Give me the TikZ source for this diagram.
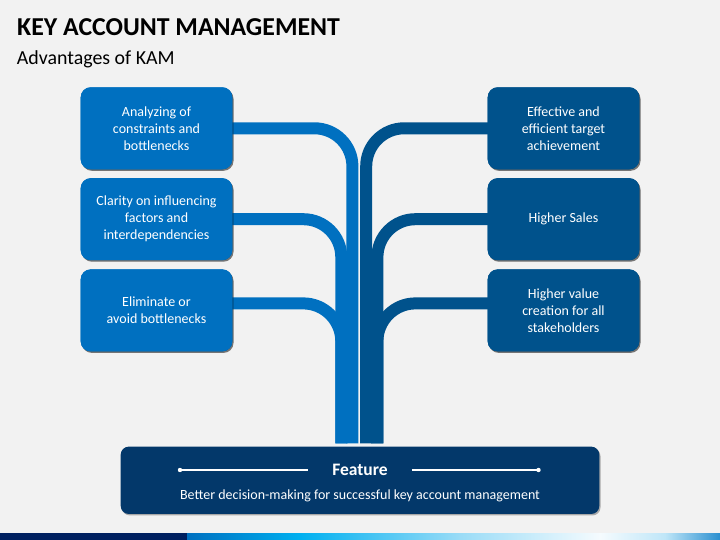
\documentclass[tikz,border=0pt]{standalone}
\usepackage{fontspec}
\setmainfont{Carlito}
\usetikzlibrary{shadows}
\definecolor{bg}{HTML}{F2F2F2}
\definecolor{lblue}{HTML}{0070C0}
\definecolor{rblue}{HTML}{00528C}
\definecolor{navy}{HTML}{03386A}
\definecolor{barnavy}{HTML}{002060}
\definecolor{cyanA}{HTML}{00B0F0}
\definecolor{cyanB}{HTML}{9ADCF7}
\definecolor{whiteA}{HTML}{F5FBFE}
\definecolor{cyanC}{HTML}{BFE6F8}
\definecolor{endblue}{HTML}{2A8FD0}
\tikzset{
  shadowed/.style={drop shadow={shadow xshift=1.2pt,shadow yshift=-1.5pt,opacity=0.3,fill=black}},
  boxbase/.style={shadowed,rounded corners=10pt,minimum width=151.6pt,minimum height=82pt,
    text=white,align=center,inner sep=2pt,font=\fontsize{14pt}{17pt}\selectfont},
  lbox/.style={boxbase,fill=lblue},
  rbox/.style={boxbase,fill=rblue},
  branch/.style={line width=12pt,rounded corners=38pt},
  lbranch/.style={branch,draw=lblue},
  rbranch/.style={branch,draw=rblue},
  featbox/.style={shadowed,fill=navy,rounded corners=8pt,minimum width=478.6pt,minimum height=67.3pt},
  featline/.style={draw=white,line width=1.3pt},
  dotmark/.style={fill=white},
}
\begin{document}
\begin{tikzpicture}[x=1pt,y=-1pt]
\fill[bg] (0,0) rectangle (720,540);
\useasboundingbox (0,0) rectangle (720,540);

% titles
\node[anchor=base west,inner sep=0,font=\fontsize{25.8pt}{30pt}\selectfont\bfseries] (title) at (17,36) {KEY ACCOUNT MANAGEMENT};
\node[anchor=base west,inner sep=0,font=\fontsize{19.9pt}{23pt}\selectfont] (subtitle) at (16.7,65) {Advantages of KAM};

% trunk end points
\coordinate (tL1) at (352.4,443.4);
\coordinate (tL2) at (341.3,443.4);
\coordinate (tR1) at (366.2,443.4);
\coordinate (tR2) at (377.4,443.4);

% boxes (positions)
\path
  node[lbox] (l1) at (156.5,128.3) {Analyzing of\\constraints and\\bottlenecks}
  node[lbox] (l2) at (156.5,219.2) {Clarity on influencing\\factors and\\interdependencies}
  node[lbox] (l3) at (156.5,310.4) {Eliminate or\\avoid bottlenecks}
  node[rbox] (r1) at (563.5,128.3) {Effective and\\efficient target\\achievement}
  node[rbox] (r2) at (563.5,219.2) {Higher Sales}
  node[rbox] (r3) at (563.5,310.4) {Higher value\\creation for all\\stakeholders};

% branches
\draw[lbranch] ([xshift=-2pt]l3.east) ++(0,-7) -| (tL2);
\draw[lbranch] ([xshift=-2pt]l2.east) -| (tL2);
\draw[lbranch] ([xshift=-2pt]l1.east) -| (tL1);
\draw[rbranch] ([xshift=2pt]r3.west) ++(0,-7) -| (tR2);
\draw[rbranch] ([xshift=2pt]r2.west) -| (tR2);
\draw[rbranch] ([xshift=2pt]r1.west) -| (tR1);

% redraw boxes on top
\path
  node[lbox] at (l1) {Analyzing of\\constraints and\\bottlenecks}
  node[lbox] at (l2) {Clarity on influencing\\factors and\\interdependencies}
  node[lbox] at (l3) {Eliminate or\\avoid bottlenecks}
  node[rbox] at (r1) {Effective and\\efficient target\\achievement}
  node[rbox] at (r2) {Higher Sales}
  node[rbox] at (r3) {Higher value\\creation for all\\stakeholders};

% feature box
\node[featbox] (feat) at (360,480.3) {};
\node[text=white,font=\fontsize{17.5pt}{20pt}\selectfont\bfseries,inner xsep=24pt,inner ysep=0pt] (ftitle) at (360,470) {Feature};
\node[text=white,font=\fontsize{14pt}{16pt}\selectfont,inner sep=0pt] (fsub) at (360,495.5) {Better decision-making for successful key account management};
\coordinate (fl) at (180,470);
\coordinate (fr) at (538.5,470);
\draw[featline] (fl) -- (ftitle.west);
\draw[featline] (ftitle.east) -- (fr);
\fill[dotmark] (fl) circle (2.2pt);
\fill[dotmark] (fr) circle (2.2pt);

% bottom bar
\fill[barnavy] (0,533) rectangle (187.5,540);
\shade[left color=lblue,right color=cyanA] (187,533) rectangle (300.5,540);
\shade[left color=cyanA,right color=cyanB] (300,533) rectangle (460.5,540);
\shade[left color=cyanB,right color=whiteA] (460,533) rectangle (600.5,540);
\shade[left color=whiteA,right color=cyanC] (600,533) rectangle (665.5,540);
\shade[left color=cyanC,right color=endblue] (665,533) rectangle (720,540);
\end{tikzpicture}
\end{document}
